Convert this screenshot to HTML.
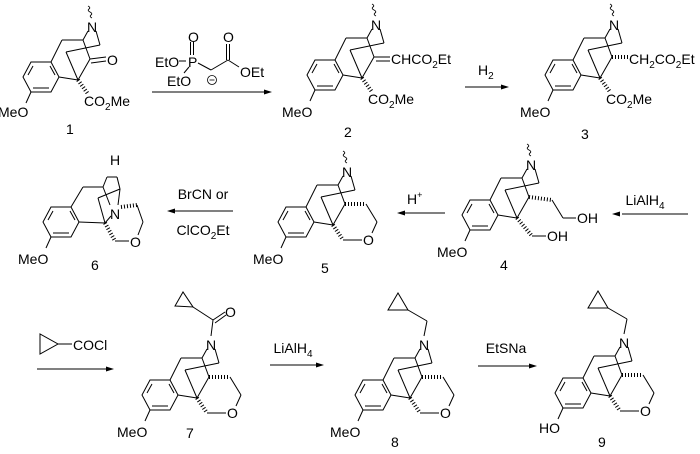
<!DOCTYPE html>
<html><head><meta charset="utf-8"><style>
html,body{margin:0;padding:0;background:#fff}
svg{display:block}
text{font-family:"Liberation Sans",sans-serif;font-size:14px;fill:#000}
</style></head><body>
<svg width="700" height="454" viewBox="0 0 700 454" xmlns="http://www.w3.org/2000/svg">
<defs>
<g id="ring" fill="none" stroke="#000" stroke-width="1">
<polygon points="45,60 65,60 73,75 65,90 45,90 37,75"/>
<line x1="42" y1="73" x2="47" y2="64"/>
<line x1="47" y1="86" x2="63" y2="86"/>
<line x1="64" y1="64" x2="69" y2="73"/>
<line x1="45" y1="90" x2="40" y2="101"/>
</g>
<g id="cage" fill="none" stroke="#000" stroke-width="1">
<line x1="65" y1="60" x2="76" y2="38"/>
<line x1="76" y1="38" x2="97" y2="38"/>
<line x1="97" y1="38" x2="102" y2="29"/>
<line x1="110" y1="29" x2="114" y2="43"/>
<line x1="114" y1="43" x2="80" y2="50"/>
<line x1="80" y1="50" x2="92" y2="78"/>
<line x1="97" y1="38" x2="104" y2="57"/>
<line x1="104" y1="57" x2="92" y2="78"/>
<line x1="73" y1="75" x2="92" y2="78"/>
</g>
<path id="wig" d="M106,16 q-3,-1.5 -1,-3 q2,-1.5 -1,-3 q-3,-1.5 -1,-3 q2,-1.5 -1,-3" fill="none" stroke="#000" stroke-width="0.9"/>
<g id="pyran" fill="none" stroke="#000">
<line x1="104" y1="57" x2="125" y2="57" stroke-width="4" stroke-dasharray="1 2"/>
<line x1="125" y1="57" x2="136" y2="75" stroke-width="1"/>
<line x1="136" y1="75" x2="131" y2="86" stroke-width="1"/>
<line x1="92" y1="78" x2="102" y2="93" stroke-width="4" stroke-dasharray="1 2"/>
<line x1="102" y1="93" x2="121" y2="93" stroke-width="1"/>
</g>
<line id="qhash" x1="92" y1="78" x2="102" y2="92" stroke="#000" stroke-width="4" stroke-dasharray="1 2"/>
</defs>

<!-- Compound 1 -->
<g transform="translate(-14,2)">
<use href="#ring"/><use href="#cage"/><use href="#wig"/><use href="#qhash"/>
<line x1="104" y1="57" x2="120" y2="55" stroke="#000"/>
<line x1="105" y1="61" x2="120" y2="59" stroke="#000"/>
<text x="101" y="30">N</text>
<text x="121" y="63">O</text>
<text x="98" y="104">CO<tspan font-size="10" dy="4">2</tspan><tspan dy="-4">Me</tspan></text>
<text x="12" y="115">MeO</text>
</g>
<text x="66" y="134">1</text>

<!-- reagent 1 -->
<text x="155" y="67">EtO</text>
<line x1="179" y1="61" x2="186" y2="61" stroke="#000"/>
<text x="188" y="67">P</text>
<line x1="190.5" y1="42" x2="190.5" y2="55" stroke="#000"/>
<line x1="193.5" y1="42" x2="193.5" y2="55" stroke="#000"/>
<text x="188" y="42">O</text>
<line x1="189" y1="67" x2="184" y2="73" stroke="#000"/>
<text x="167" y="86">EtO</text>
<line x1="198" y1="63" x2="211" y2="70" stroke="#000"/>
<line x1="211" y1="70" x2="228" y2="60" stroke="#000"/>
<line x1="226.5" y1="60" x2="226.5" y2="44" stroke="#000"/>
<line x1="229.5" y1="60" x2="229.5" y2="44" stroke="#000"/>
<text x="223" y="42">O</text>
<line x1="228" y1="60" x2="239" y2="67" stroke="#000"/>
<text x="240" y="77">OEt</text>
<circle cx="212" cy="80" r="4.5" fill="none" stroke="#000" stroke-width="0.8"/>
<line x1="209.5" y1="80" x2="214.5" y2="80" stroke="#000" stroke-width="0.8"/>
<line x1="152" y1="92" x2="266" y2="92" stroke="#000"/>
<polygon points="272,92 264,89.5 264,94.5"/>

<!-- Compound 2 -->
<g transform="translate(270,0)">
<use href="#ring"/><use href="#cage"/><use href="#wig"/><use href="#qhash"/>
<line x1="104" y1="57" x2="120" y2="57" stroke="#000"/>
<line x1="106" y1="61" x2="120" y2="61" stroke="#000"/>
<text x="101" y="30">N</text>
<text x="121" y="64">CHCO<tspan font-size="10" dy="4">2</tspan><tspan dy="-4">Et</tspan></text>
<text x="98" y="104">CO<tspan font-size="10" dy="4">2</tspan><tspan dy="-4">Me</tspan></text>
<text x="12" y="117">MeO</text>
</g>
<text x="344" y="137">2</text>

<text x="478" y="75">H<tspan font-size="10" dy="4">2</tspan></text>
<line x1="465" y1="87" x2="503" y2="87" stroke="#000"/>
<polygon points="509,87 501,84.5 501,89.5"/>

<!-- Compound 3 -->
<g transform="translate(508,0)">
<use href="#ring"/><use href="#cage"/><use href="#wig"/><use href="#qhash"/>
<line x1="104" y1="57" x2="120" y2="57" stroke="#000" stroke-width="4" stroke-dasharray="1 2"/>
<text x="101" y="30">N</text>
<text x="121" y="64">CH<tspan font-size="10" dy="4">2</tspan><tspan dy="-4">CO</tspan><tspan font-size="10" dy="4">2</tspan><tspan dy="-4">Et</tspan></text>
<text x="98" y="104">CO<tspan font-size="10" dy="4">2</tspan><tspan dy="-4">Me</tspan></text>
<text x="12" y="117">MeO</text>
</g>
<text x="581" y="139">3</text>

<!-- Row 2 arrows -->
<text x="645" y="205" text-anchor="middle">LiAlH<tspan font-size="10" dy="4">4</tspan></text>
<line x1="622" y1="214" x2="688" y2="214" stroke="#000"/>
<polygon points="612,214 620,211.5 620,216.5"/>
<text x="407" y="204">H<tspan font-size="9" dy="-6">+</tspan></text>
<line x1="405" y1="213" x2="445" y2="213" stroke="#000"/>
<polygon points="397,213 405,210.5 405,215.5"/>
<text x="203" y="199" text-anchor="middle">BrCN or</text>
<text x="203" y="235" text-anchor="middle">ClCO<tspan font-size="10" dy="4">2</tspan><tspan dy="-4">Et</tspan></text>
<line x1="175" y1="211" x2="233" y2="211" stroke="#000"/>
<polygon points="167,211 175,208.5 175,213.5"/>

<!-- Compound 4 -->
<g transform="translate(425,140)">
<use href="#ring"/><use href="#cage"/><use href="#wig"/>
<line x1="104" y1="57" x2="127" y2="60" stroke="#000" stroke-width="4" stroke-dasharray="1 2"/>
<line x1="127" y1="60" x2="138" y2="78" stroke="#000"/>
<line x1="138" y1="78" x2="151" y2="78" stroke="#000"/>
<text x="152" y="83">OH</text>
<line x1="92" y1="78" x2="107" y2="96" stroke="#000" stroke-width="4" stroke-dasharray="1 2"/>
<line x1="107" y1="96" x2="121" y2="96" stroke="#000"/>
<text x="122" y="101">OH</text>
<text x="101" y="30">N</text>
<text x="12" y="117">MeO</text>
</g>
<text x="500" y="270">4</text>

<!-- Compound 5 -->
<g transform="translate(241,147)">
<use href="#ring"/><use href="#cage"/><use href="#wig"/><use href="#pyran"/>
<text x="101" y="30">N</text>
<text x="122" y="98">O</text>
<text x="12" y="117">MeO</text>
</g>
<text x="321" y="273">5</text>

<!-- Compound 6 -->
<g transform="translate(6,147)"><use href="#ring"/>
<text x="12" y="117">MeO</text></g>
<g fill="none" stroke="#000" stroke-width="1">
<line x1="71" y1="207" x2="83" y2="187"/>
<line x1="83" y1="187" x2="103" y2="187"/>
<line x1="103" y1="187" x2="107" y2="177"/>
<line x1="107" y1="177" x2="117" y2="177"/>
<line x1="117" y1="177" x2="120" y2="189"/>
<line x1="120" y1="189" x2="98" y2="198"/>
<line x1="98" y1="198" x2="105" y2="223"/>
<line x1="79" y1="222" x2="105" y2="223"/>
<line x1="105" y1="223" x2="111" y2="216"/>
<line x1="120" y1="189" x2="118" y2="205"/>
<line x1="103" y1="187" x2="110" y2="205"/>
<line x1="121" y1="207" x2="137" y2="205" stroke-width="4" stroke-dasharray="1 2"/>
<line x1="137" y1="205" x2="143" y2="222"/>
<line x1="143" y1="222" x2="138" y2="235"/>
<line x1="105" y1="223" x2="115" y2="241" stroke-width="4" stroke-dasharray="1 2"/>
<line x1="115" y1="241" x2="129" y2="241"/>
</g>
<text x="110" y="165">H</text>
<text x="110" y="219">N</text>
<text x="130" y="247">O</text>
<text x="91" y="270">6</text>

<!-- Row 3 reagent -->
<polygon points="40,334 40,354 58,344" fill="none" stroke="#000"/>
<line x1="58" y1="344" x2="72" y2="344" stroke="#000"/>
<text x="73" y="350">COCl</text>
<line x1="37" y1="369" x2="107" y2="369" stroke="#000"/>
<polygon points="114,369 106,366.5 106,371.5"/>

<!-- Compound 7 -->
<g transform="translate(105,320)">
<use href="#ring"/><use href="#cage"/><use href="#pyran"/>
<line x1="106" y1="16" x2="108" y2="0" stroke="#000"/>
<line x1="108" y1="0" x2="120" y2="-8" stroke="#000"/>
<line x1="110" y1="3" x2="121" y2="-5" stroke="#000"/>
<line x1="108" y1="0" x2="88" y2="-13" stroke="#000"/>
<polygon points="70,-14 88,-13 78,-28" fill="none" stroke="#000"/>
<text x="120" y="-3">O</text>
<text x="101" y="30">N</text>
<text x="122" y="98">O</text>
<text x="12" y="117">MeO</text>
</g>
<text x="186" y="438">7</text>

<text x="293" y="353" text-anchor="middle">LiAlH<tspan font-size="10" dy="4">4</tspan></text>
<line x1="270" y1="365" x2="318" y2="365" stroke="#000"/>
<polygon points="324,365 316,362.5 316,367.5"/>

<!-- Compound 8 -->
<g transform="translate(318,320)">
<use href="#ring"/><use href="#cage"/><use href="#pyran"/>
<line x1="106" y1="16" x2="109" y2="1" stroke="#000"/>
<line x1="109" y1="1" x2="90" y2="-10" stroke="#000"/>
<polygon points="70,-10 90,-10 80,-27" fill="none" stroke="#000"/>
<text x="101" y="30">N</text>
<text x="122" y="98">O</text>
<text x="12" y="117">MeO</text>
</g>
<text x="391" y="447">8</text>

<text x="506" y="353" text-anchor="middle">EtSNa</text>
<line x1="478" y1="366" x2="531" y2="366" stroke="#000"/>
<polygon points="537,366 529,363.5 529,368.5"/>

<!-- Compound 9 -->
<g transform="translate(518,318)">
<use href="#ring"/><use href="#cage"/><use href="#pyran"/>
<line x1="106" y1="16" x2="109" y2="1" stroke="#000"/>
<line x1="109" y1="1" x2="90" y2="-10" stroke="#000"/>
<polygon points="70,-10 90,-10 80,-27" fill="none" stroke="#000"/>
<text x="101" y="30">N</text>
<text x="122" y="98">O</text>
<text x="21" y="115">HO</text>
</g>
<text x="598" y="447">9</text>
</svg>
</body></html>
